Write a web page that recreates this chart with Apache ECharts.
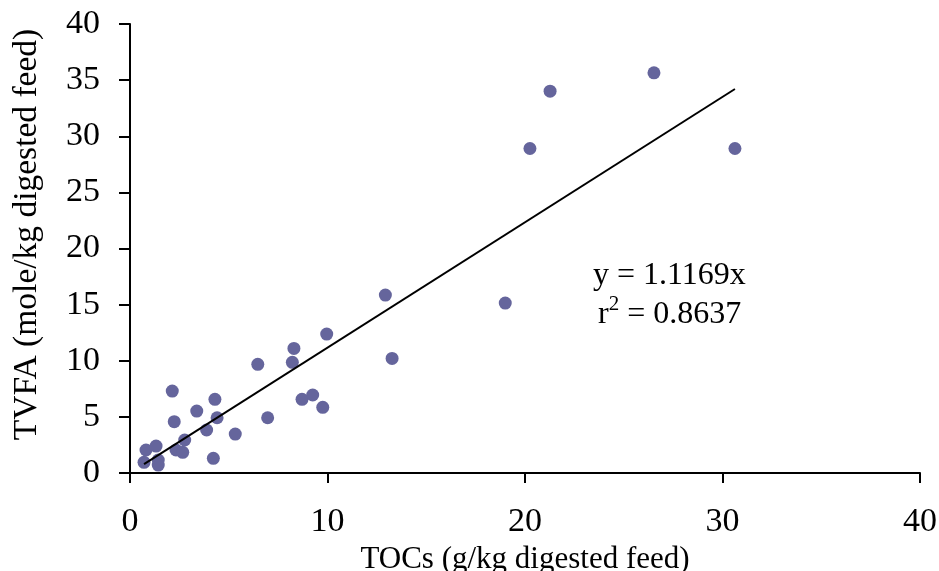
<!DOCTYPE html>
<html>
<head>
<meta charset="utf-8">
<script src="https://cdn.jsdelivr.net/npm/echarts@6/dist/echarts.min.js"></script>
<style>
  html, body { margin: 0; padding: 0; background: #fff; }
  #chart { width: 939px; height: 571px; }
</style>
</head>
<body>
<div id="chart"></div>
<script>
// TOCs vs TVFA, both per kg digested feed; regression through origin
var tocs = [0.71, 0.81, 1.32, 1.43, 1.43, 2.14, 2.24, 2.33, 2.67, 2.77, 3.38, 3.88, 4.22, 4.30, 4.41,
  5.33, 6.47, 6.97, 8.22, 8.30, 8.71, 9.25, 9.76, 9.96, 12.93, 13.27, 19.0, 20.25, 21.27, 26.53, 30.63];
var tvfa = [0.95, 2.05, 2.40, 1.16, 0.71, 7.30, 4.57, 2.05, 1.84, 2.94, 5.52, 3.83, 1.31, 6.56, 4.92,
  3.47, 9.68, 4.92, 9.86, 11.10, 6.56, 6.95, 5.85, 12.38, 15.85, 10.21, 15.14, 28.91, 34.02, 35.65, 28.91];
var slope = 1.1169;
var rSquared = '0.8637';
var xTicks = [0, 10, 20, 30, 40];
var yTicks = [0, 5, 10, 15, 20, 25, 30, 35, 40];

var points = tocs.map(function (x, i) { return [x, tvfa[i]]; });
var xMin = Math.min.apply(null, tocs), xMax = Math.max.apply(null, tocs);
var fitLine = [[xMin, slope * xMin], [xMax, slope * xMax]];

var font = 'Liberation Serif';
var chart = echarts.init(document.getElementById('chart'));
chart.setOption({
  backgroundColor: '#fff',
  animation: false,
  grid: { left: 130, right: 19, top: 24, bottom: 98, containLabel: false, outerBoundsMode: 'none' },
  xAxis: {
    type: 'value', min: xTicks[0], max: xTicks[xTicks.length - 1], interval: 10,
    name: 'TOCs (g/kg digested feed)', nameLocation: 'middle', nameGap: 64,
    nameTextStyle: { fontFamily: font, fontSize: 31, color: '#000' },
    axisLine: { lineStyle: { color: '#000', width: 2 } },
    axisTick: { show: true, length: 10, lineStyle: { color: '#000', width: 2 } },
    axisLabel: { fontFamily: font, fontSize: 34, color: '#000', margin: 32 },
    splitLine: { show: false }
  },
  yAxis: {
    type: 'value', min: yTicks[0], max: yTicks[yTicks.length - 1], interval: 5,
    name: 'TVFA (mole/kg digested feed)', nameLocation: 'middle', nameGap: 86,
    nameTextStyle: { fontFamily: font, fontSize: 33.5, color: '#000', padding: [0, 0, 0, 28] },
    axisLine: { show: true, lineStyle: { color: '#000', width: 2 } },
    axisTick: { show: true, length: 11, lineStyle: { color: '#000', width: 2 } },
    axisLabel: { fontFamily: font, fontSize: 34, color: '#000', margin: 30 },
    splitLine: { show: false }
  },
  series: [
    {
      type: 'scatter', data: points, symbolSize: 13,
      itemStyle: { color: '#65659c', opacity: 1 }, z: 2
    },
    {
      type: 'line', data: fitLine, showSymbol: false, symbol: 'none',
      lineStyle: { color: '#000', width: 2 }, z: 3
    }
  ],
  graphic: [
    {
      type: 'text', left: 593, top: 260,
      style: { text: 'y = ' + slope + 'x', font: '32px "Liberation Serif"', fill: '#000' }
    },
    {
      type: 'text', left: 598, top: 294,
      style: {
        text: '{r|r}{s|2}{r| = ' + rSquared + '}',
        fill: '#000',
        rich: {
          r: { fontFamily: font, fontSize: 32, color: '#000', verticalAlign: 'bottom' },
          s: { fontFamily: font, fontSize: 21, color: '#000', verticalAlign: 'top', padding: [0, 0, 16, 0] }
        }
      }
    }
  ]
});
</script>
</body>
</html>
